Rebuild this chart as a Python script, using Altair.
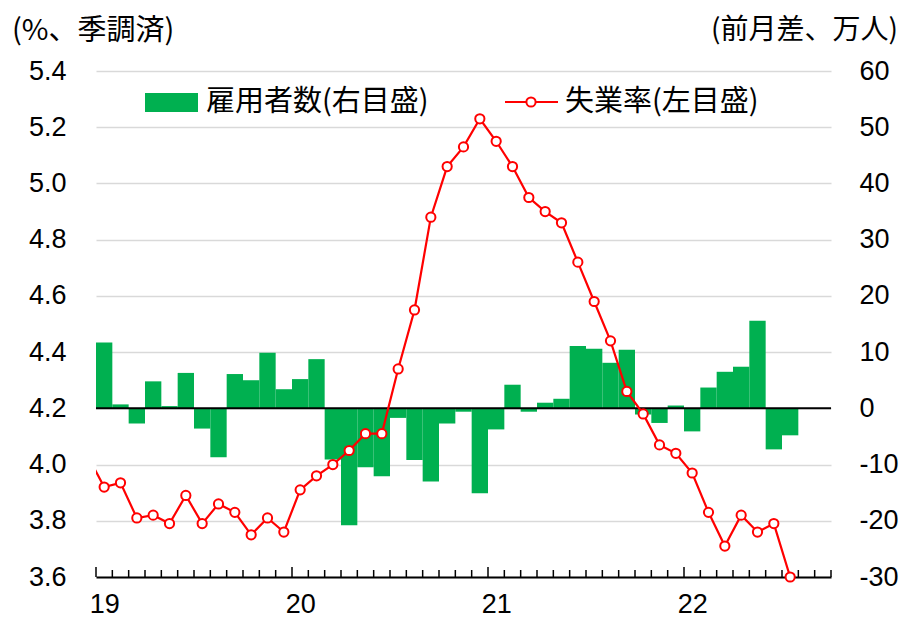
import altair as alt
import pandas as pd

# ---- data (Jan 2019 - Jul 2022, monthly) ----
rate_lead = 4.03  # Dec 2018 (only the line segment entering the plot)
rate_2019 = [3.92, 3.935, 3.81, 3.82, 3.79, 3.89, 3.79, 3.86, 3.83, 3.75, 3.81, 3.76]
rate_2020 = [3.91, 3.96, 4.00, 4.05, 4.11, 4.11, 4.34, 4.55, 4.88, 5.06, 5.13, 5.23]
rate_2021 = [5.15, 5.06, 4.95, 4.90, 4.86, 4.72, 4.58, 4.44, 4.26, 4.18, 4.07, 4.04]
rate_2022 = [3.97, 3.83, 3.71, 3.82, 3.76, 3.79, 3.60]

emp_2019 = [11.7, 0.7, -2.7, 4.8, 0.4, 6.3, -3.6, -8.7, 6.1, 5.0, 9.9, 3.4]
emp_2020 = [5.2, 8.75, -9.1, -20.8, -10.5, -12.1, -1.7, -9.2, -13.0, -2.7, -0.6, -15.1]
emp_2021 = [-3.75, 4.2, -0.6, 1.0, 1.7, 11.1, 10.6, 8.1, 10.4, -1.1, -2.6, 0.5]
emp_2022 = [-4.1, 3.7, 6.5, 7.4, 15.6, -7.3, -4.8]

year_labels = ["19", "20", "21", "22"]
left_ticks = [3.6, 3.8, 4.0, 4.2, 4.4, 4.6, 4.8, 5.0, 5.2, 5.4]
right_ticks = [-30, -20, -10, 0, 10, 20, 30, 40, 50, 60]
n_slots = 45  # Jan 2019 .. Sep 2022

left_title = "(%、季調済)"
right_title = "(前月差、万人)"
legend_bar = "雇用者数(右目盛)"
legend_line = "失業率(左目盛)"

GREEN = "#00B050"
RED = "#FF0000"
NUM_FONT = "Liberation Sans"
JP_FONT = "Noto Sans CJK JP"

rate = rate_2019 + rate_2020 + rate_2021 + rate_2022
emp = emp_2019 + emp_2020 + emp_2021 + emp_2022
n = len(rate)

bars_df = pd.DataFrame({"x0": list(range(n)), "x1": [i + 1 for i in range(n)], "emp": emp})
line_df = pd.DataFrame({"xc": [i + 0.5 for i in range(-1, n)], "rate": [rate_lead] + rate})
pts_df = line_df[line_df["xc"] > 0].reset_index(drop=True)
tick_df = pd.DataFrame({"t": list(range(n_slots + 1))})
minor_df = tick_df[tick_df["t"] % 12 != 0]
major_df = tick_df[tick_df["t"] % 12 == 0]
one = pd.DataFrame({"a": [0]})

W, H = 735, 506

xscale = alt.Scale(domain=[0, n_slots], nice=False, zero=False)
label_arr = "[" + ",".join("'%s'" % s for s in year_labels) + "]"
xaxis = alt.Axis(
    values=[12 * i + 0.5 for i in range(len(year_labels))],
    labelExpr=label_arr + "[floor(datum.value / 12)]",
    title=None, ticks=False, grid=False, domain=True,
    domainColor="black", domainWidth=2,
    labelFont=NUM_FONT, labelFontSize=27, labelColor="black",
    labelPadding=14, labelFlush=False, labelOverlap=False,
)

rscale = alt.Scale(domain=[-30, 60], nice=False, zero=False)
lscale = alt.Scale(domain=[3.6, 5.4], nice=False, zero=False)

bars = alt.Chart(bars_df).mark_rect(color=GREEN).encode(
    x=alt.X("x0:Q", scale=xscale, axis=xaxis),
    x2="x1:Q",
    y=alt.Y("emp:Q", scale=rscale, axis=alt.Axis(
        orient="right", values=right_ticks, title=None, grid=False,
        ticks=False, tickSize=0, domain=False, labelAlign="left",
        labelExpr="datum.value < 0 ? '-' + abs(datum.value) : '' + datum.value",
        labelFont=NUM_FONT, labelFontSize=27, labelColor="black",
        labelPadding=28, labelFlush=False)),
    y2=alt.datum(0),
)
zero = alt.Chart(pd.DataFrame({"z": [0]})).mark_rule(color="black", strokeWidth=2).encode(
    y=alt.Y("z:Q", scale=rscale, axis=None),
    x=alt.value(0), x2=alt.value(W),
)
minor_ticks = alt.Chart(minor_df).mark_rule(color="black", strokeWidth=1.5).encode(
    x=alt.X("t:Q", scale=xscale, axis=xaxis),
    y=alt.value(H), y2=alt.value(H - 7),
)
major_ticks = alt.Chart(major_df).mark_rule(color="black", strokeWidth=1.5).encode(
    x=alt.X("t:Q", scale=xscale, axis=xaxis),
    y=alt.value(H), y2=alt.value(H - 10),
)
line = alt.Chart(line_df).mark_line(color=RED, strokeWidth=2.2, clip=True).encode(
    x=alt.X("xc:Q", scale=xscale, axis=xaxis),
    y=alt.Y("rate:Q", scale=lscale, axis=alt.Axis(
        orient="left", values=left_ticks, title=None, grid=True,
        gridColor="#D9D9D9", gridWidth=1.5, ticks=False, tickSize=0,
        domain=False, format=".1f",
        labelFont=NUM_FONT, labelFontSize=27, labelColor="black",
        labelPadding=30, labelFlush=False)),
)
pts = alt.Chart(pts_df).mark_point(
    shape="circle", filled=True, fill="white", stroke=RED, strokeWidth=2,
    size=85, opacity=1).encode(
    x=alt.X("xc:Q", scale=xscale, axis=xaxis),
    y=alt.Y("rate:Q", scale=lscale, axis=None),
)

def txt(s, x, y, align="left", size=28):
    return alt.Chart(one).mark_text(
        text=s, align=align, baseline="middle", font=JP_FONT,
        fontSize=size, color="black").encode(x=alt.value(x), y=alt.value(y))

t_left = txt(left_title, -84, -40, "left", 29)
t_right = txt(right_title, 802, -40, "right", 28)
leg_rect = alt.Chart(one).mark_rect(color=GREEN).encode(
    x=alt.value(49), x2=alt.value(102), y=alt.value(22), y2=alt.value(41))
leg_t1 = txt(legend_bar, 110, 31, size=29)
leg_line = alt.Chart(one).mark_rule(color=RED, strokeWidth=2.2).encode(
    x=alt.value(409), x2=alt.value(462), y=alt.value(31))
leg_pt = alt.Chart(one).mark_point(
    shape="circle", filled=True, fill="white", stroke=RED, strokeWidth=2,
    size=85, opacity=1).encode(x=alt.value(435), y=alt.value(31))
leg_t2 = txt(legend_line, 469, 31, size=29)

chart = alt.layer(
    bars, zero, minor_ticks, major_ticks, line, pts,
    t_left, t_right, leg_rect, leg_t1, leg_line, leg_pt, leg_t2,
).resolve_scale(y="independent").properties(
    width=W, height=H,
    padding={"left": 88, "top": 63, "right": 73, "bottom": 40},
    autosize=alt.AutoSizeParams(type="none"),
).configure_view(stroke=None)

chart.save("out.html", embed_options={"renderer": "svg", "actions": False})
